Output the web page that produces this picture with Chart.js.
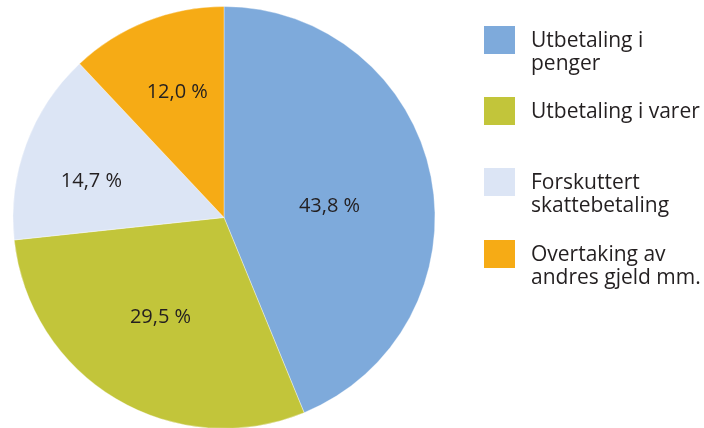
<!DOCTYPE html>
<html>
<head>
<meta charset="utf-8">
<script src="https://cdn.jsdelivr.net/npm/chart.js@4/dist/chart.umd.min.js"></script>
<style>
  html, body { margin: 0; padding: 0; background: #fff; }
  #wrap { position: relative; width: 704px; height: 428px; overflow: hidden; }
  #pie { position: absolute; left: 0; top: 0; }
  .item { position: absolute; left: 484px; }
  .swatch { position: absolute; left: 0; top: 0; width: 31px; height: 28px; }
  .text { position: absolute; left: 47px; top: 1.5px; width: 200px;
          font-family: 'Open Sans', sans-serif; font-size: 21px; line-height: 23px;
          color: #231f20; white-space: nowrap; }
</style>
</head>
<body>
<div id="wrap">
  <canvas id="pie" width="704" height="428"></canvas>
  <div id="legend"></div>
</div>
<script>
// Shares of settlement types, percent
const categories = [
  'Utbetaling i penger',
  'Utbetaling i varer',
  'Forskuttert skattebetaling',
  'Overtaking av andres gjeld mm.'
];
const legendLines = [
  ['Utbetaling i', 'penger'],
  ['Utbetaling i varer'],
  ['Forskuttert', 'skattebetaling'],
  ['Overtaking av', 'andres gjeld mm.']
];
const shares = [43.8, 29.5, 14.7, 12.0];
const colors = ['#7eaadb', '#c2c53a', '#dce5f5', '#f6ab15'];

// Legend placement (top of each swatch); label distance from centre (fraction of radius) plus a nudge in px
const legendTops = [26, 97, 168, 240];
const labelRadius = [0.50, 0.56, 0.655, 0.64];
const labelNudge = [[2, 9], [-3, -2], [-3, 12], [3, 0]];

const fmt = v => v.toFixed(1).replace('.', ',') + ' %';

const legend = document.getElementById('legend');
categories.forEach((c, i) => {
  const item = document.createElement('div');
  item.className = 'item';
  item.style.top = legendTops[i] + 'px';
  const sw = document.createElement('div');
  sw.className = 'swatch';
  sw.style.background = colors[i];
  const tx = document.createElement('div');
  tx.className = 'text';
  tx.innerHTML = legendLines[i].join('<br>');
  item.appendChild(sw);
  item.appendChild(tx);
  legend.appendChild(item);
});

const sliceLabels = {
  id: 'sliceLabels',
  afterDatasetsDraw(chart) {
    const ctx = chart.ctx;
    const meta = chart.getDatasetMeta(0);
    ctx.save();
    ctx.font = '20px "Open Sans", sans-serif';
    ctx.fillStyle = '#231f20';
    ctx.textAlign = 'center';
    ctx.textBaseline = 'middle';
    meta.data.forEach((arc, i) => {
      const p = arc.getProps(['x', 'y', 'startAngle', 'endAngle', 'outerRadius'], true);
      const mid = (p.startAngle + p.endAngle) / 2;
      const r = p.outerRadius * labelRadius[i];
      ctx.fillText(fmt(shares[i]),
        p.x + Math.cos(mid) * r + labelNudge[i][0],
        p.y + Math.sin(mid) * r + labelNudge[i][1]);
    });
    ctx.restore();
  }
};

new Chart(document.getElementById('pie'), {
  type: 'pie',
  data: {
    labels: categories,
    datasets: [{
      data: shares,
      backgroundColor: colors,
      borderWidth: 0.6,
      borderColor: 'rgba(255,255,255,0.6)'
    }]
  },
  options: {
    responsive: false,
    animation: false,
    radius: 211,
    layout: { padding: { top: 7, bottom: 0, left: 0, right: 256 } },
    plugins: { legend: { display: false }, tooltip: { enabled: false } }
  },
  plugins: [sliceLabels]
});
</script>
</body>
</html>
